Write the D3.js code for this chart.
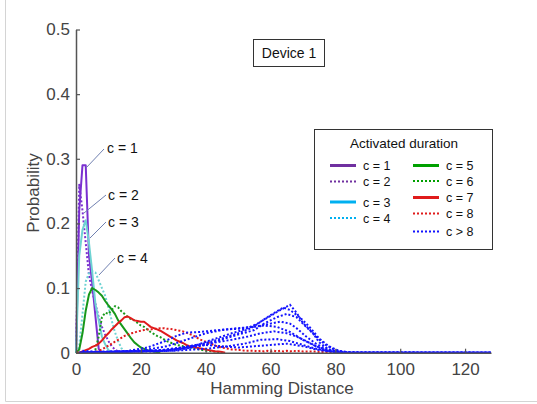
<!DOCTYPE html>
<html>
<head>
<meta charset="utf-8">
<script src="https://cdn.jsdelivr.net/npm/d3@7"></script>
<style>
  body { margin: 0; background: #fff; }
  svg { display: block; }
</style>
</head>
<body>
<div id="chart"></div>
<script>
// --- Data ---
const xTicks = [0, 20, 40, 60, 80, 100, 120];
const yTicks = [0, 0.1, 0.2, 0.3, 0.4, 0.5];
const seriesLabels = ['c = 1', 'c = 2', 'c = 3', 'c = 4', 'c = 5', 'c = 6', 'c = 7', 'c = 8', 'c > 8'];

// probability per Hamming distance, starting at 0
const c1 = [0, 0.22, 0.29, 0.29, 0.15, 0.108, 0.056, 0.006, 0];
const c2 = [0, 0.26, 0.22, 0.17, 0.12, 0.095, 0.075, 0.055, 0.04, 0.028, 0.018, 0.01, 0.005, 0.002, 0];
const c3 = [0, 0.15, 0.19, 0.205, 0.17, 0.125, 0.075, 0.05, 0.025, 0.013, 0.004, 0];
const c4 = [0, 0.01, 0.06, 0.11, 0.123, 0.126, 0.124, 0.112, 0.1, 0.088, 0.07, 0.05, 0.032, 0.018, 0.007, 0.002, 0];
const c5 = [0, 0.005, 0.03, 0.065, 0.09, 0.1, 0.097, 0.093, 0.088, 0.08, 0.073, 0.067, 0.06, 0.05, 0.043,
  0.036, 0.029, 0.022, 0.016, 0.012, 0.008, 0.006, 0.004, 0.003, 0.002, 0.001, 0];
const c6 = [0, 0, 0, 0, 0, 0, 0.005, 0.025, 0.055, 0.062, 0.06, 0.066, 0.072, 0.07, 0.064, 0.06, 0.055,
  0.052, 0.05, 0.046, 0.042, 0.04, 0.036, 0.032, 0.029, 0.026, 0.024, 0.021, 0.018, 0.016, 0.014, 0.012,
  0.011, 0.01, 0.009, 0.008, 0.007, 0.006, 0.005, 0.004, 0.003, 0.003, 0.002, 0.002, 0.001, 0];
const c7 = [0, 0, 0.002, 0.004, 0.006, 0.009, 0.011, 0.014, 0.019, 0.025, 0.03, 0.036, 0.041, 0.046, 0.05,
  0.055, 0.056, 0.053, 0.05, 0.049, 0.048, 0.048, 0.044, 0.04, 0.038, 0.036, 0.034, 0.031, 0.028, 0.025,
  0.022, 0.019, 0.017, 0.015, 0.012, 0.01, 0.009, 0.008, 0.007, 0.006, 0.005, 0.004, 0.003, 0.002, 0.002,
  0.001, 0];
const c8 = [0, 0, 0, 0, 0, 0, 0.001, 0.003, 0.005, 0.008, 0.011, 0.014, 0.017, 0.02, 0.023, 0.026, 0.028,
  0.03, 0.031, 0.033, 0.034, 0.035, 0.036, 0.036, 0.037, 0.037, 0.038, 0.038, 0.037, 0.037, 0.036, 0.035,
  0.034, 0.033, 0.031, 0.029, 0.027, 0.024, 0.021, 0.019, 0.017, 0.015, 0.013, 0.011, 0.009, 0.008, 0.007,
  0.006, 0.005, 0.005, 0.004, 0.004, 0.003, 0.003, 0.003, 0.003, 0.002, 0.003, 0.002, 0.003, 0.002, 0.003,
  0.002, 0.003, 0.002, 0.003, 0.002, 0.003, 0.002, 0.003, 0.002, 0.002, 0.002, 0.002, 0.002, 0.001, 0.001,
  0.001, 0.001, 0.001, 0];

// c > 8 : [Hamming distance, probability]
const b1 = [[1, 0], [20, 0.002], [30, 0.005], [35, 0.01], [40, 0.015], [45, 0.022], [50, 0.03], [54, 0.038],
  [57, 0.048], [60, 0.057], [63, 0.066], [66, 0.074], [68, 0.062], [70, 0.046], [73, 0.031], [75, 0.016],
  [78, 0.005], [82, 0.001], [128, 0]];
const b2 = [[1, 0], [25, 0.002], [35, 0.008], [42, 0.02], [48, 0.03], [52, 0.036], [56, 0.045], [60, 0.058],
  [64, 0.07], [66, 0.066], [69, 0.055], [72, 0.04], [75, 0.022], [78, 0.01], [81, 0.003], [85, 0], [128, 0]];
const b3 = [[1, 0], [30, 0.003], [40, 0.012], [46, 0.022], [50, 0.028], [55, 0.035], [58, 0.045], [62, 0.055],
  [65, 0.06], [68, 0.055], [71, 0.04], [74, 0.025], [77, 0.012], [80, 0.004], [84, 0], [128, 0]];
const b4 = [[1, 0], [20, 0.003], [28, 0.01], [34, 0.02], [40, 0.03], [45, 0.035], [50, 0.038], [55, 0.04],
  [60, 0.045], [63, 0.048], [66, 0.045], [68, 0.038], [71, 0.025], [74, 0.014], [77, 0.006], [80, 0.002],
  [84, 0], [128, 0]];
const b5 = [[1, 0], [25, 0.003], [35, 0.01], [42, 0.015], [48, 0.02], [53, 0.025], [57, 0.03], [61, 0.033],
  [65, 0.03], [68, 0.025], [71, 0.018], [74, 0.01], [77, 0.004], [80, 0.001], [84, 0], [128, 0]];
const b6 = [[1, 0], [30, 0.003], [40, 0.006], [47, 0.01], [52, 0.014], [57, 0.02], [62, 0.021], [66, 0.018],
  [70, 0.012], [74, 0.006], [78, 0.002], [82, 0], [128, 0]];
const b7 = [[2, 0.003], [5, 0.002], [10, 0.002], [20, 0.003], [30, 0.005], [35, 0.01], [40, 0.012], [45, 0.01],
  [50, 0.008], [55, 0.01], [60, 0.012], [65, 0.014], [70, 0.01], [75, 0.004], [80, 0.001], [85, 0], [128, 0]];
const b8 = [[1, 0], [15, 0.002], [22, 0.008], [27, 0.017], [31, 0.026], [34, 0.031], [38, 0.032], [42, 0.034],
  [46, 0.036], [50, 0.037], [54, 0.04], [58, 0.042], [62, 0.04], [66, 0.032], [70, 0.02], [74, 0.01],
  [78, 0.003], [82, 0], [128, 0]];

const cSeries = [c1, c2, c3, c4, c5, c6, c7, c8];
const blueSeries = [b1, b2, b3, b4, b5, b6, b7, b8];

// --- Styles ---
const purple = '#7a2fd0', cyanLine = '#6fd3d3', cyanKey = '#00b0f0',
  green = '#17981a', red = '#e01b1b', blue = '#1414ff';
const styles = [
  { color: purple, key: '#7030a0', dash: null },
  { color: purple, key: '#7030a0', dash: '2,2' },
  { color: cyanLine, key: cyanKey, dash: null },
  { color: cyanLine, key: cyanKey, dash: '2,2' },
  { color: green, key: '#00a000', dash: null },
  { color: green, key: '#00a000', dash: '2,2' },
  { color: red, key: red, dash: null },
  { color: red, key: red, dash: '2,2' },
  { color: blue, key: blue, dash: '2,2' }
];

const W = 537, H = 404;
const svg = d3.select('#chart').append('svg').attr('width', W).attr('height', H);

// outer frame
svg.append('path')
  .attr('d', `M5.5,0 V401.5 H${W}`)
  .attr('fill', 'none').attr('stroke', '#d4d4d4').attr('stroke-width', 1);

const x = d3.scaleLinear().domain([0, 128]).range([76, 491]);
const y = d3.scaleLinear().domain([0, 0.5]).range([352.7, 29.5]);

const line = d3.line().x(d => x(d[0])).y(d => y(d[1]));

const tickFont = '"Liberation Sans", Arial, sans-serif';
const axisColor = '#555';

// --- Curves ---
const plot = svg.append('g');
cSeries.forEach((s, i) => {
  plot.append('path')
    .datum(s.map((v, k) => [k, v]))
    .attr('d', line)
    .attr('fill', 'none')
    .attr('stroke', styles[i].color)
    .attr('stroke-width', 2)
    .attr('stroke-linejoin', 'round')
    .attr('stroke-dasharray', styles[i].dash);
});
blueSeries.forEach((s, i) => {
  plot.append('path')
    .datum(s)
    .attr('d', line)
    .attr('fill', 'none')
    .attr('stroke', blue)
    .attr('stroke-width', 2)
    .attr('stroke-dasharray', '2,2')
    .attr('stroke-dashoffset', i % 2 ? 2 : 0);
});

// --- Axes ---
const xAxis = svg.append('g').attr('transform', `translate(0,${y(0)})`)
  .call(d3.axisBottom(x).tickValues(xTicks).tickSizeInner(-4).tickSizeOuter(0).tickPadding(10));
const yAxis = svg.append('g').attr('transform', `translate(${x(0)},0)`)
  .call(d3.axisLeft(y).tickValues(yTicks).tickSizeInner(-4).tickSizeOuter(0).tickPadding(6)
    .tickFormat(d => d === 0 ? '0' : d3.format('.1f')(d)));
[xAxis, yAxis].forEach(a => {
  a.select('.domain').attr('stroke', axisColor).attr('stroke-width', 1.5);
  a.selectAll('.tick line').attr('stroke', axisColor).attr('stroke-width', 1.2);
  a.selectAll('.tick text').attr('fill', '#444').style('font-family', tickFont).style('font-size', '17px');
});

svg.append('text')
  .attr('x', 282).attr('y', 394)
  .attr('text-anchor', 'middle')
  .style('font-family', tickFont).style('font-size', '17px').attr('fill', '#444')
  .text('Hamming Distance');
svg.append('text')
  .attr('transform', 'translate(39,193) rotate(-90)')
  .attr('text-anchor', 'middle')
  .style('font-family', tickFont).style('font-size', '17px').attr('fill', '#444')
  .text('Probability');

// --- Callouts ---
const labelFont = '"Liberation Sans", Arial, sans-serif';
const callouts = [
  { text: 'c = 1', tx: 107, ty: 153, from: [104, 149], to: [86, 168] },
  { text: 'c = 2', tx: 108, ty: 200, from: [106, 195], to: [84, 213] },
  { text: 'c = 3', tx: 108, ty: 227, from: [106, 222], to: [90, 238] },
  { text: 'c = 4', tx: 117, ty: 263, from: [115, 258], to: [99, 275] }
];
callouts.forEach(c => {
  svg.append('line')
    .attr('x1', c.from[0]).attr('y1', c.from[1]).attr('x2', c.to[0]).attr('y2', c.to[1])
    .attr('stroke', '#7080b0').attr('stroke-width', 1);
  svg.append('text')
    .attr('x', c.tx).attr('y', c.ty)
    .style('font-family', labelFont).style('font-size', '14px').attr('fill', '#111')
    .text(c.text);
});

// --- "Device 1" box ---
svg.append('rect').attr('x', 253.5).attr('y', 39.5).attr('width', 71).attr('height', 27)
  .attr('fill', '#fff').attr('stroke', '#333').attr('stroke-width', 1);
svg.append('text').attr('x', 289).attr('y', 58).attr('text-anchor', 'middle')
  .style('font-family', labelFont).style('font-size', '14px').attr('fill', '#111')
  .text('Device 1');

// --- Legend ---
const lg = svg.append('g');
lg.append('rect').attr('x', 314.5).attr('y', 129.5).attr('width', 178).attr('height', 120)
  .attr('fill', '#fff').attr('stroke', '#333').attr('stroke-width', 1);
lg.append('text').attr('x', 404).attr('y', 148).attr('text-anchor', 'middle')
  .style('font-family', labelFont).style('font-size', '13.5px').attr('fill', '#111')
  .text('Activated duration');
const rowsLeft = [165.5, 181.5, 202, 218];
const rowsRight = [165.5, 181, 197.5, 213.5, 231.5];
seriesLabels.forEach((lab, i) => {
  const left = i < 4;
  const lx = left ? 330 : 413;
  const ly = left ? rowsLeft[i] : rowsRight[i - 4];
  lg.append('line')
    .attr('x1', lx).attr('x2', lx + 26).attr('y1', ly).attr('y2', ly)
    .attr('stroke', styles[i].key)
    .attr('stroke-width', styles[i].dash ? 2 : 3)
    .attr('stroke-dasharray', styles[i].dash);
  lg.append('text').attr('x', lx + 33).attr('y', ly + 4.5)
    .style('font-family', labelFont).style('font-size', '12.5px').attr('fill', '#111')
    .text(lab);
});
</script>
</body>
</html>
